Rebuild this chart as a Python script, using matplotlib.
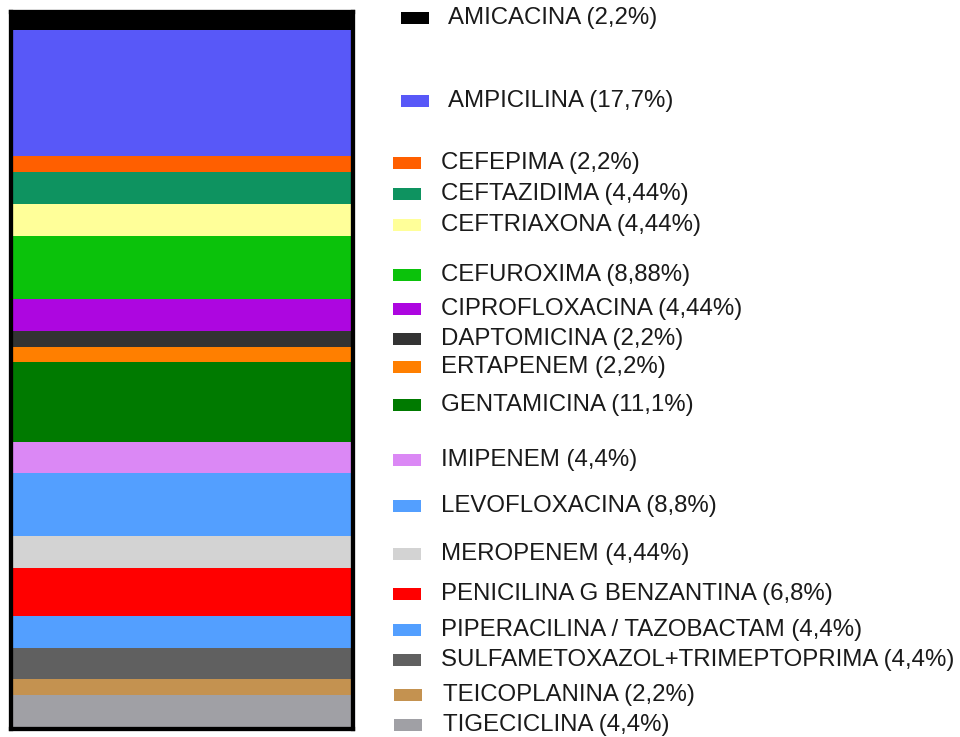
import matplotlib
matplotlib.use("Agg")
import matplotlib.pyplot as plt
import matplotlib.patches as mpatches

# antibiotic share, stacked top to bottom
drugs = ["AMICACINA", "AMPICILINA", "CEFEPIMA", "CEFTAZIDIMA", "CEFTRIAXONA",
         "CEFUROXIMA", "CIPROFLOXACINA", "DAPTOMICINA", "ERTAPENEM",
         "GENTAMICINA", "IMIPENEM", "LEVOFLOXACINA", "MEROPENEM",
         "PENICILINA G BENZANTINA", "PIPERACILINA / TAZOBACTAM",
         "SULFAMETOXAZOL+TRIMEPTOPRIMA", "TEICOPLANINA", "TIGECICLINA"]
pct = [2.2, 17.7, 2.2, 4.44, 4.44, 8.88, 4.44, 2.2, 2.2, 11.1, 4.4, 8.8,
       4.44, 6.8, 4.4, 4.4, 2.2, 4.4]
colors = ["#000000", "#5858F8", "#FF5F00", "#0E9360", "#FFFF99", "#0BC20B",
          "#AD06E0", "#333333", "#FF7F00", "#007A00", "#DB88F5", "#539FFF",
          "#D3D3D3", "#FF0000", "#539FFF", "#606060", "#C49250", "#A0A0A5"]

# legend rows (pixel y of each entry, text x, swatch x)
leg_y = [18, 101, 163, 194, 225, 275, 309, 339, 367, 405, 460, 506, 554,
         594, 630, 660, 695, 725]
leg_tx = [448, 448] + [441] * 14 + [443, 443]
leg_px = [401, 401] + [393] * 14 + [394, 394]

W, H = 960, 737
fig = plt.figure(figsize=(W / 100, H / 100), dpi=100)

left, right, top, bottom = 10.6, 353.3, 12.0, 728.7
ax = fig.add_axes([left / W, (H - bottom) / H, (right - left) / W, (bottom - top) / H])

total = sum(pct)
bottoms = [sum(pct[:i]) for i in range(len(pct))]
ax.bar([0] * len(pct), pct, bottom=bottoms, width=1, align="edge",
       color=colors, linewidth=0)

border_px = 4.3
inner_px = (bottom - top) - border_px
pad = total * (border_px / 2) / inner_px
ax.set_xlim(0, 1)
ax.set_ylim(total + pad, -pad)
ax.set_xticks([])
ax.set_yticks([])
for sp in ax.spines.values():
    sp.set_linewidth(border_px * 72 / 100)
    sp.set_color("black")

for name, v, c, y, tx, px in zip(drugs, pct, colors, leg_y, leg_tx, leg_px):
    fig.patches.append(mpatches.Rectangle((px / W, 1 - (y + 6) / H), 28 / W, 12 / H,
                                          transform=fig.transFigure, color=c,
                                          linewidth=0))
    label = "%s (%s%%)" % (name, str(v).replace(".", ","))
    fig.text(tx / W, 1 - y / H, label, ha="left", va="center",
             fontsize=17.3, family="Liberation Sans", color="#1a1a1a")

fig.savefig("out.png", dpi=100)
